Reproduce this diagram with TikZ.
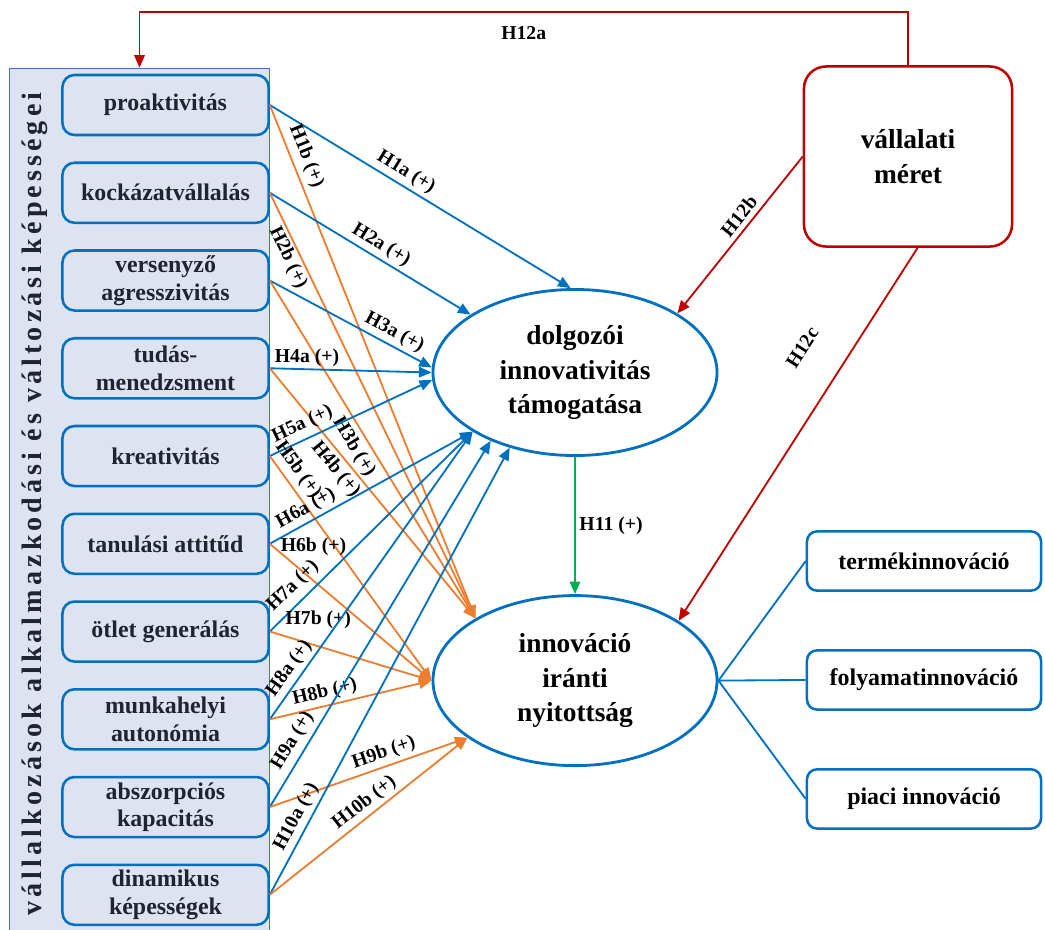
\documentclass[tikz,border=0pt]{standalone}
\usepackage{fontspec}
\setmainfont{Liberation Serif}
\usepackage{tikz}
\usetikzlibrary{positioning, arrows.meta, shapes.geometric}
\definecolor{capblue}{HTML}{0070C0}
\definecolor{capedge}{HTML}{4472C4}
\definecolor{capfill}{HTML}{DDE3F0}
\definecolor{capink}{HTML}{1E2430}
\definecolor{hypblue}{HTML}{0070C0}
\definecolor{hyporange}{HTML}{ED7D31}
\definecolor{hypred}{HTML}{C00000}
\definecolor{hypgreen}{HTML}{00B050}

\begin{document}
\begin{tikzpicture}[
  x=0.025cm, y=-0.025cm,
  node distance=0.63cm,
  panel/.style={draw=capedge, line width=1pt, fill=capfill, minimum width=6.5cm, minimum height=21.8cm, inner sep=0pt},
  captitle/.style={rotate=90, font=\fontsize{20}{24}\selectfont\bfseries\addfontfeature{LetterSpace=14.5}, text=capink},
  capbox/.style={draw=capblue, line width=1.8pt, rounded corners=0.3cm, fill=capfill, align=center, minimum width=5.15cm, minimum height=1.5cm, inner sep=2pt, font=\fontsize{17}{19.5}\selectfont\bfseries, text=capink},
  outbox/.style={draw=capblue, line width=1.8pt, rounded corners=0.25cm, fill=white, minimum width=5.85cm, minimum height=1.48cm, font=\fontsize{17}{19.5}\selectfont\bfseries},
  oval/.style={ellipse, draw=capblue, line width=2pt, fill=white, align=center, minimum width=7.1cm, minimum height=4.15cm, inner sep=0pt, font=\fontsize{19.5}{24.5}\selectfont\bfseries},
  sizebox/.style={draw=hypred, line width=1.8pt, rounded corners=0.55cm, fill=white, align=center, minimum width=5.2cm, minimum height=4.5cm, font=\fontsize{19.5}{25}\selectfont\bfseries},
  hyp/.style={font=\fontsize{14}{16}\selectfont\bfseries, text=black, inner sep=1.5pt},
  barr/.style={-{Triangle[length=9pt, width=7.5pt]}, line width=1.3pt, hypblue},
  oarr/.style={-{Triangle[length=9pt, width=7.5pt]}, line width=1.3pt, hyporange},
  rarr/.style={-{Triangle[length=9pt, width=7.5pt]}, line width=1.3pt, hypred},
  garr/.style={-{Triangle[length=9pt, width=7.5pt]}, line width=1.3pt, hypgreen},
  link/.style={line width=1.3pt, hypblue}
]
  \useasboundingbox (0,0) rectangle (1045,929);

  \node[panel] (capanel) at (139.5,504.5) {};
  \node[captitle] (captext) at (35,504) {vállalkozások alkalmazkodási és változási képességei};

  \node[capbox] (proakt) at (165.5,105) {proaktivitás};
  \node[capbox, below=of proakt] (kockazat) {kockázatvállalás};
  \node[capbox, below=of kockazat] (verseny) {versenyző\\agresszivitás};
  \node[capbox, below=of verseny] (tudas) {tudás-\\menedzsment};
  \node[capbox, below=of tudas] (kreativ) {kreativitás};
  \node[capbox, below=of kreativ] (tanul) {tanulási attitűd};
  \node[capbox, below=of tanul] (otlet) {ötlet generálás};
  \node[capbox, below=of otlet] (autonom) {munkahelyi\\autonómia};
  \node[capbox, below=of autonom] (abszorp) {abszorpciós\\kapacitás};
  \node[capbox, below=of abszorp] (dinam) {dinamikus\\képességek};

  \node[oval] (e1) at (575,372.5) {dolgozói\\innovativitás\\támogatása};
  \node[oval, minimum height=4.25cm, below=3.43cm of e1] (e2) {innováció\\iránti\\nyitottság};

  \node[sizebox] (meret) at (908,156.5) {vállalati\\méret};

  \node[outbox] (termek) at (924,561) {termékinnováció};
  \node[outbox, below=1.43cm of termek] (folyamat) {folyamatinnováció};
  \node[outbox, below=1.43cm of folyamat] (piaci) {piaci innováció};

  \draw[barr] (proakt.east) -- node[hyp, sloped, above=1pt, pos=0.43] {H1a (+)} (e1.93);
  \draw[oarr] (proakt.east) -- node[hyp, sloped, above=2pt, pos=0.11] {H1b (+)} (e2.148);
  \draw[barr] (kockazat.east) -- node[hyp, sloped, above=1pt, pos=0.52] {H2a (+)} (e1.151);
  \draw[oarr] (kockazat.east) -- node[hyp, sloped, below=0pt, pos=0.14] {H2b (+)} (e2.148);
  \draw[barr] (verseny.east) -- node[hyp, sloped, above=1pt, pos=0.73] {H3a (+)} (e1.178);
  \draw[oarr] (verseny.east) -- node[hyp, sloped, below=2pt, pos=0.47] {H3b (+)} (e2.148);
  \draw[barr] (tudas.east) -- node[hyp, above=0pt, pos=0.23] {H4a (+)} (e1.180);
  \draw[oarr] (tudas.east) -- node[hyp, sloped, below=1pt, pos=0.37] {H4b (+)} (e2.148);
  \draw[barr] (kreativ.east) -- node[hyp, sloped, above=2pt, pos=0.24] {H5a (+)} (e1.183);
  \draw[oarr] (kreativ.east) -- node[hyp, sloped, above=2pt, pos=0.1] {H5b (+)} (e2.180);
  \draw[barr] (tanul.east) -- node[hyp, sloped, above=1pt, pos=0.21] {H6a (+)} (e1.210);
  \draw[oarr] (tanul.east) -- node[hyp, above=16pt, pos=0.27] {H6b (+)} (e2.180);
  \draw[barr] (otlet.east) -- node[hyp, sloped, above=3pt, pos=0.17] {H7a (+)} (e1.210);
  \draw[oarr] (otlet.east) -- node[hyp, above=10pt, pos=0.3] {H7b (+)} (e2.180);
  \draw[barr] (autonom.east) -- node[hyp, sloped, above=1pt, pos=0.15] {H8a (+)} (e1.210);
  \draw[oarr] (autonom.east) -- node[hyp, sloped, above=1pt, pos=0.36] {H8b (+)} (e2.180);
  \draw[barr] (abszorp.east) -- node[hyp, sloped, above=2pt, pos=0.16] {H9a (+)} (e1.219);
  \draw[oarr] (abszorp.east) -- node[hyp, sloped, above=1pt, pos=0.6] {H9b (+)} (e2.208);
  \draw[barr] (dinam.east) -- node[hyp, sloped, above=1pt, pos=0.16] {H10a (+)} (e1.229);
  \draw[oarr] (dinam.east) -- node[hyp, sloped, above=1pt, pos=0.52] {H10b (+)} (e2.208);

  \draw[garr] (e1.south) -- node[hyp, right=1pt] {H11 (+)} (e2.north);

  \draw[rarr] (meret.north) -- ++(0,-53) -| node[hyp, pos=0.25, below=8pt] {H12a} (capanel.north);
  \draw[rarr] (meret.west) -- node[hyp, sloped, above=2pt, pos=0.43] {H12b} (e1.30);
  \draw[rarr] (meret.-84) -- node[hyp, sloped, above=24pt, pos=0.33] {H12c} (e2.30);

  \draw[link] (e2.east) -- (termek.west);
  \draw[link] (e2.east) -- (folyamat.west);
  \draw[link] (e2.east) -- (piaci.west);
\end{tikzpicture}
\end{document}
